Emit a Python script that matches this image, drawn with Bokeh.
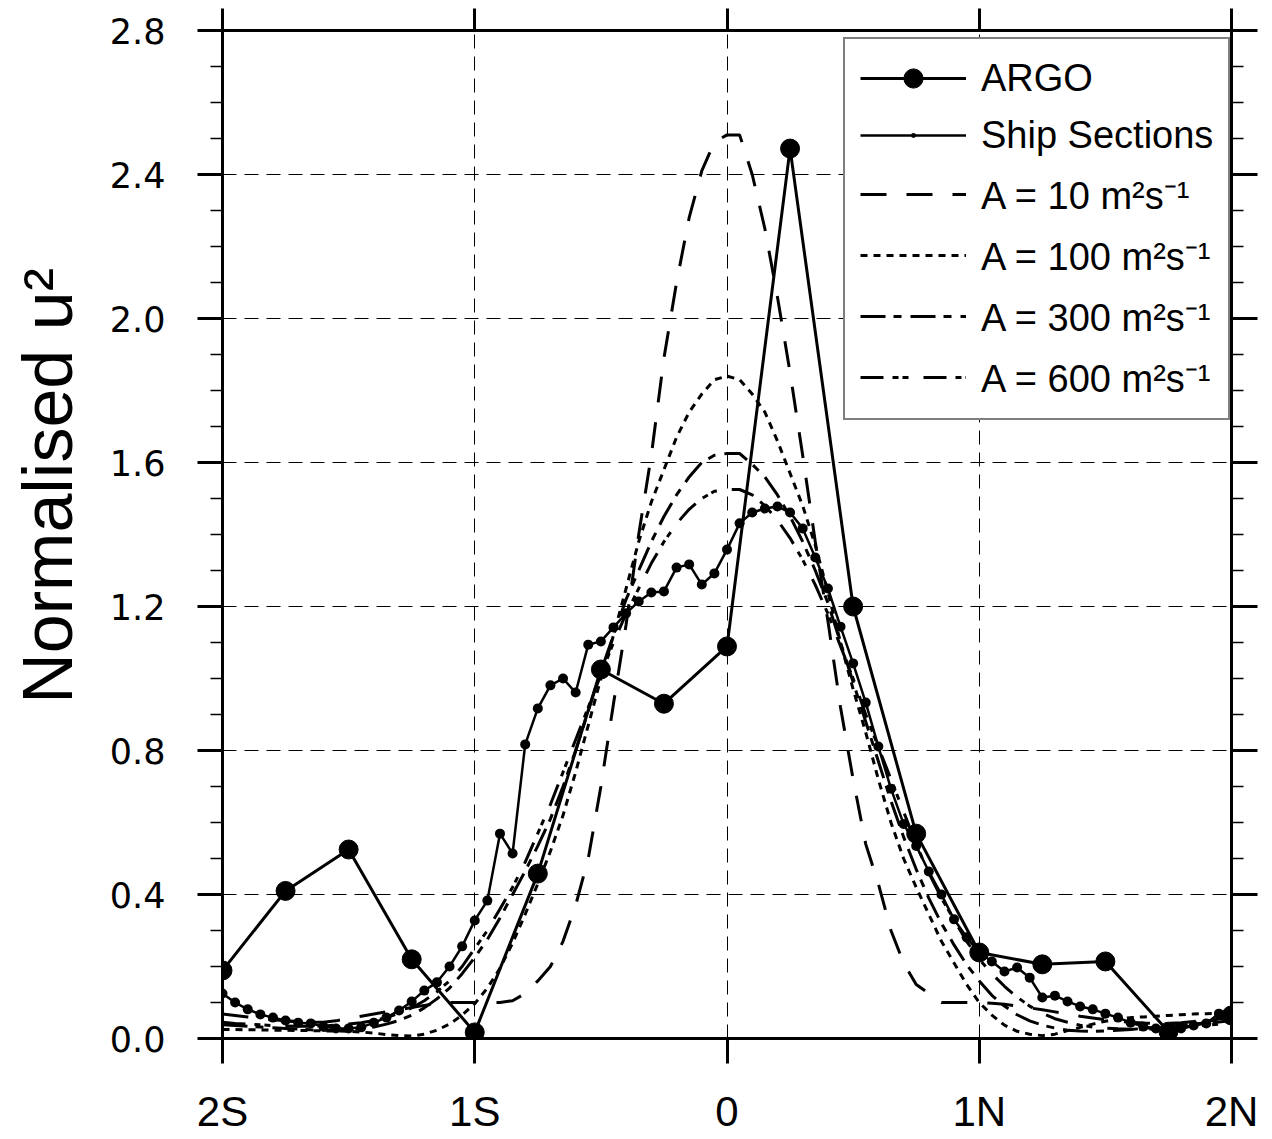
import numpy as np
from bokeh.plotting import figure
from bokeh.models import (LinearAxis, FixedTicker, Legend, LegendItem, Range1d,
                          PrintfTickFormatter)
from bokeh.embed import file_html
from bokeh.resources import INLINE

# ---------------- data ----------------
argo_lat = [-2.0, -1.75, -1.5, -1.25, -1.0, -0.75, -0.5, -0.25, 0.0,
            0.25, 0.5, 0.75, 1.0, 1.25, 1.5, 1.75, 2.0]
argo_val = [0.189, 0.41, 0.525, 0.22, 0.017, 0.458, 1.025, 0.93, 1.089,
            2.472, 1.20, 0.569, 0.239, 0.206, 0.214, 0.019, 0.064]

grid_lat = np.linspace(-2.0, 2.0, 81)

ship_val = [0.125, 0.100, 0.081, 0.067, 0.058, 0.050, 0.044, 0.042, 0.033, 0.028,
            0.028, 0.031, 0.044, 0.058, 0.078, 0.103, 0.133, 0.156, 0.200, 0.256,
            0.328, 0.383, 0.569, 0.514, 0.817, 0.917, 0.981, 1.000, 0.961, 1.094,
            1.103, 1.142, 1.181, 1.214, 1.239, 1.242, 1.308, 1.317, 1.261, 1.292,
            1.358, 1.431, 1.461, 1.472, 1.478, 1.461, 1.417, 1.336, 1.250, 1.144,
            1.042, 0.933, 0.811, 0.694, 0.596, 0.535, 0.464, 0.400, 0.331, 0.281,
            0.239, 0.214, 0.186, 0.197, 0.169, 0.114, 0.119, 0.103, 0.089, 0.081,
            0.069, 0.058, 0.044, 0.033, 0.028, 0.022, 0.028, 0.036, 0.042, 0.069,
            0.067]

a10_val = [0.068, 0.064, 0.060, 0.056, 0.052, 0.049, 0.047, 0.045, 0.045, 0.049,
           0.056, 0.062, 0.068, 0.074, 0.080, 0.086, 0.092, 0.097, 0.100, 0.100,
           0.100, 0.100, 0.100, 0.105, 0.125, 0.160, 0.200, 0.270, 0.370, 0.500,
           0.700, 0.930, 1.150, 1.400, 1.620, 1.890, 2.100, 2.280, 2.410, 2.490,
           2.510, 2.510, 2.400, 2.250, 2.060, 1.850, 1.620, 1.380, 1.160, 0.920,
           0.720, 0.540, 0.430, 0.300, 0.210, 0.150, 0.125, 0.100, 0.100, 0.100,
           0.100, 0.098, 0.095, 0.090, 0.085, 0.080, 0.074, 0.068, 0.062, 0.057,
           0.052, 0.048, 0.045, 0.043, 0.042, 0.042, 0.044, 0.047, 0.051, 0.055,
           0.060]

a100_val = [0.025, 0.025, 0.024, 0.024, 0.023, 0.023, 0.022, 0.022, 0.021, 0.021,
            0.020, 0.018, 0.015, 0.011, 0.008, 0.007, 0.012, 0.023, 0.040, 0.065,
            0.097, 0.140, 0.195, 0.265, 0.345, 0.430, 0.520, 0.620, 0.740, 0.870,
            1.000, 1.120, 1.250, 1.380, 1.490, 1.580, 1.670, 1.740, 1.790, 1.830,
            1.840, 1.830, 1.790, 1.740, 1.660, 1.570, 1.480, 1.370, 1.240, 1.100,
            0.970, 0.850, 0.720, 0.600, 0.500, 0.420, 0.345, 0.270, 0.210, 0.150,
            0.100, 0.065, 0.037, 0.020, 0.012, 0.008, 0.012, 0.022, 0.031, 0.040,
            0.048, 0.055, 0.058, 0.060, 0.062, 0.064, 0.066, 0.068, 0.069, 0.070,
            0.070]

a300_val = [0.038, 0.036, 0.034, 0.032, 0.030, 0.028, 0.026, 0.024, 0.023, 0.023,
            0.024, 0.027, 0.032, 0.040, 0.050, 0.065, 0.085, 0.110, 0.140, 0.180,
            0.225, 0.275, 0.335, 0.400, 0.465, 0.535, 0.610, 0.700, 0.800, 0.910,
            1.020, 1.120, 1.220, 1.300, 1.380, 1.450, 1.510, 1.560, 1.600, 1.620,
            1.625, 1.625, 1.595, 1.560, 1.510, 1.450, 1.380, 1.300, 1.210, 1.100,
            0.990, 0.880, 0.770, 0.660, 0.560, 0.470, 0.390, 0.320, 0.260, 0.205,
            0.160, 0.120, 0.090, 0.066, 0.049, 0.037, 0.029, 0.023, 0.021, 0.020,
            0.021, 0.023, 0.025, 0.028, 0.031, 0.034, 0.037, 0.040, 0.043, 0.046,
            0.050]

a600_val = [0.045, 0.042, 0.040, 0.038, 0.036, 0.035, 0.034, 0.034, 0.035, 0.037,
            0.040, 0.044, 0.050, 0.058, 0.070, 0.085, 0.105, 0.130, 0.160, 0.200,
            0.250, 0.300, 0.360, 0.420, 0.490, 0.570, 0.650, 0.740, 0.830, 0.920,
            1.010, 1.100, 1.180, 1.250, 1.320, 1.380, 1.430, 1.470, 1.500, 1.520,
            1.525, 1.525, 1.510, 1.480, 1.440, 1.390, 1.330, 1.260, 1.180, 1.090,
            1.000, 0.900, 0.810, 0.720, 0.630, 0.540, 0.460, 0.390, 0.330, 0.270,
            0.220, 0.180, 0.145, 0.115, 0.090, 0.070, 0.055, 0.045, 0.037, 0.032,
            0.029, 0.027, 0.026, 0.026, 0.027, 0.029, 0.031, 0.034, 0.037, 0.040,
            0.044]

x_ticks = [-2, -1, 0, 1, 2]
x_tick_labels = ["2S", "1S", "0", "1N", "2N"]
y_ticks = [0.0, 0.4, 0.8, 1.2, 1.6, 2.0, 2.4, 2.8]
y_minor = [0.1, 0.2, 0.3, 0.5, 0.6, 0.7, 0.9, 1.0, 1.1, 1.3, 1.4, 1.5, 1.7, 1.8,
           1.9, 2.1, 2.2, 2.3, 2.5, 2.6, 2.7]

legend_labels = ["ARGO", "Ship Sections", "A = 10 m\u00b2s\u207b\u00b9",
                 "A = 100 m\u00b2s\u207b\u00b9", "A = 300 m\u00b2s\u207b\u00b9",
                 "A = 600 m\u00b2s\u207b\u00b9"]
y_title = "\u00a0" * 5 + "Normalised u\u00b2"

# ---------------- figure ----------------
p = figure(width=1268, height=1138, x_range=Range1d(-2, 2), y_range=Range1d(0, 2.8),
           output_backend="svg", toolbar_location=None,
           min_border_left=222, min_border_right=37, min_border_top=30,
           min_border_bottom=100, background_fill_color="white",
           border_fill_color="white")

p.outline_line_color = "black"
p.outline_line_width = 3

xt = FixedTicker(ticks=x_ticks, minor_ticks=[])
yt = FixedTicker(ticks=y_ticks, minor_ticks=y_minor)
overrides = {float(t): l for t, l in zip(x_ticks, x_tick_labels)}

xa = p.xaxis[0]
xa.ticker = xt
xa.major_label_overrides = overrides
xa.major_tick_out = 25
xa.major_tick_in = 0
xa.major_tick_line_width = 3
xa.axis_line_width = 3
xa.major_label_text_font = "Liberation Sans"
xa.major_label_text_font_size = "42px"
xa.major_label_text_color = "black"
xa.major_label_standoff = 24

ya = p.yaxis[0]
ya.ticker = yt
ya.formatter = PrintfTickFormatter(format="%.1f")
ya.major_tick_out = 25
ya.major_tick_in = 0
ya.minor_tick_out = 12
ya.minor_tick_in = 0
ya.major_tick_line_width = 3
ya.minor_tick_line_width = 1.5
ya.axis_line_width = 3
ya.major_label_text_font = "DejaVu Sans"
ya.major_label_text_font_size = "35px"
ya.major_label_text_color = "black"
ya.major_label_standoff = 32
ya.axis_label = y_title
ya.axis_label_text_font = "Liberation Sans"
ya.axis_label_text_font_size = "70px"
ya.axis_label_text_font_style = "normal"
ya.axis_label_text_color = "black"
ya.axis_label_standoff = 20

top = LinearAxis(ticker=xt, major_tick_out=22, major_tick_in=0,
                 major_tick_line_width=3, axis_line_width=3,
                 major_label_text_font_size="0px", major_label_text_color=None,
                 major_label_standoff=0)
p.add_layout(top, "above")
right = LinearAxis(ticker=yt, major_tick_out=26, major_tick_in=0,
                   minor_tick_out=12, minor_tick_in=0,
                   major_tick_line_width=3, minor_tick_line_width=1.5,
                   axis_line_width=3, major_label_text_font_size="0px",
                   major_label_text_color=None, major_label_standoff=0)
p.add_layout(right, "right")

for g in (p.xgrid[0], p.ygrid[0]):
    g.grid_line_color = "black"
    g.grid_line_width = 1
    g.grid_line_dash = "14 8"

# ---------------- series ----------------
lw = 3
r_a10 = p.line(grid_lat, a10_val, line_color="black", line_width=lw, line_dash="26 20")
r_a100 = p.line(grid_lat, a100_val, line_color="black", line_width=lw, line_dash="7 6")
r_a300 = p.line(grid_lat, a300_val, line_color="black", line_width=lw, line_dash="25 8 8 9")
r_a600 = p.line(grid_lat, a600_val, line_color="black", line_width=lw,
                line_dash="23 9 6 4 6 15")

r_ship_l = p.line(grid_lat, ship_val, line_color="black", line_width=2.5)
r_ship_p = p.scatter(grid_lat, ship_val, marker="dot", size=40,
                     line_color="black", fill_color="black")
r_argo_l = p.line(argo_lat, argo_val, line_color="black", line_width=3)
r_argo_p = p.scatter(argo_lat, argo_val, marker="circle", size=19,
                     fill_color="black", line_color="black")

items = [
    LegendItem(label=legend_labels[0], renderers=[r_argo_l, r_argo_p]),
    LegendItem(label=legend_labels[1], renderers=[r_ship_l, r_ship_p]),
    LegendItem(label=legend_labels[2], renderers=[r_a10]),
    LegendItem(label=legend_labels[3], renderers=[r_a100]),
    LegendItem(label=legend_labels[4], renderers=[r_a300]),
    LegendItem(label=legend_labels[5], renderers=[r_a600]),
]
legend = Legend(items=items, location=(621, 618), padding=15, margin=0,
                spacing=9, glyph_width=106, glyph_height=48, label_height=48,
                label_standoff=15, label_text_font="Liberation Sans",
                label_text_font_size="38px", label_text_color="black",
                border_line_color="black", border_line_width=2,
                background_fill_color="white", background_fill_alpha=1.0)
p.add_layout(legend)

open("out.html", "w").write(file_html(p, INLINE))
